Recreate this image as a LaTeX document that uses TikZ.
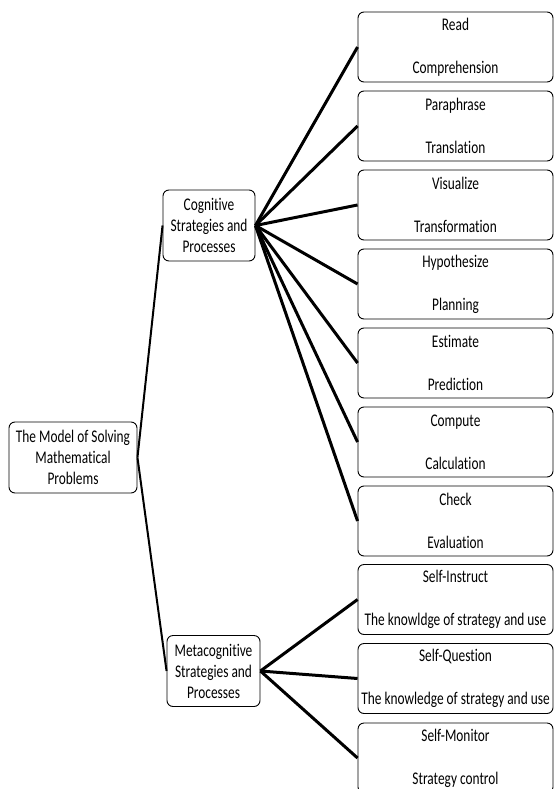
\documentclass[tikz,border=0pt]{standalone}
\usepackage{fontspec}
\setmainfont{Carlito}[FakeStretch=0.75, Ligatures=NoCommon]

\begin{document}
\begin{tikzpicture}[x=1pt,y=-1pt,
  box/.style={draw=black, line width=0.9pt, rounded corners=6pt, fill=white, align=center, inner sep=0pt, font=\fontsize{17.8}{21}\selectfont},
  midbox/.style={box, minimum width=92pt, minimum height=71pt},
  leafbox/.style={box, minimum width=195pt, minimum height=70pt},
  trunk/.style={line width=2pt},
  branch/.style={line width=3pt}]
\useasboundingbox (0,0) rectangle (555,789);
\node[box, minimum width=128pt, minimum height=71pt] (model) at (73,457.5) {The Model of Solving\\Mathematical\\Problems};
\node[midbox] (cogn) at (209,225.5) {Cognitive\\Strategies and\\Processes};
\node[midbox, minimum width=93pt] (meta) at (213.5,671) {Metacognitive\\Strategies and\\Processes};
\node[leafbox] (read) at (455.5,47) {Read\\[22pt]Comprehension};
\node[leafbox] (para) at (455.5,126) {Paraphrase\\[22pt]Translation};
\node[leafbox] (visu) at (455.5,205) {Visualize\\[22pt]Transformation};
\node[leafbox] (hypo) at (455.5,284) {Hypothesize\\[22pt]Planning};
\node[leafbox] (esti) at (455.5,363) {Estimate\\[22pt]Prediction};
\node[leafbox] (comp) at (455.5,442) {Compute\\[22pt]Calculation};
\node[leafbox] (check) at (455.5,521) {Check\\[22pt]Evaluation};
\node[leafbox] (instr) at (455.5,599.5) {Self-Instruct\\[22pt]The knowldge of strategy and use};
\node[leafbox] (quest) at (455.5,678.5) {Self-Question\\[22pt]The knowledge of strategy and use};
\node[leafbox] (monit) at (455.5,758) {Self-Monitor\\[22pt]Strategy control};
\draw[trunk] (model.east) -- (cogn.west);
\draw[trunk] (model.east) -- (meta.west);
\draw[branch] (cogn.east) -- (read.west);
\draw[branch] (cogn.east) -- (para.west);
\draw[branch] (cogn.east) -- (visu.west);
\draw[branch] (cogn.east) -- (hypo.west);
\draw[branch] (cogn.east) -- (esti.west);
\draw[branch] (cogn.east) -- (comp.west);
\draw[branch] (cogn.east) -- (check.west);
\draw[branch] (meta.east) -- (instr.west);
\draw[branch] (meta.east) -- (quest.west);
\draw[branch] (meta.east) -- (monit.west);
\end{tikzpicture}
\end{document}
